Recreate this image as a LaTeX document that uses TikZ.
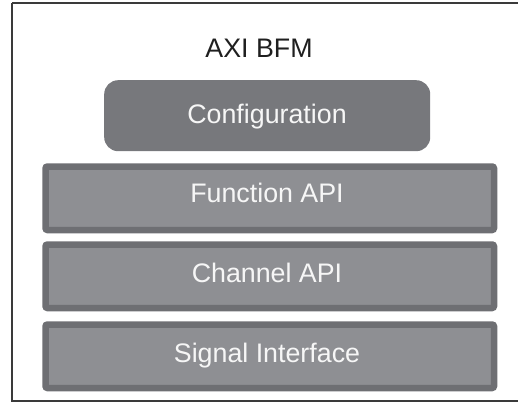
\documentclass[tikz,border=0pt]{standalone}
\usepackage{fontspec}
\setmainfont{Liberation Sans}
\definecolor{frameC}{HTML}{3A3A3A}
\definecolor{borderC}{HTML}{6E6F73}
\definecolor{innerC}{HTML}{8E8F93}
\definecolor{cfgC}{HTML}{77787C}
\definecolor{txtW}{HTML}{F6F6F6}
\begin{document}
\begin{tikzpicture}[x=1pt,y=-1pt,
  layerbox/.style={fill=innerC, draw=borderC, line width=6.5pt, rounded corners=2pt,
    minimum width=448.5pt, minimum height=63.5pt, inner sep=0pt, anchor=north west},
  cfgbox/.style={fill=cfgC, draw=none, rounded corners=14pt,
    minimum width=326pt, minimum height=71pt, inner sep=0pt, anchor=north west},
  lbl/.style={text=txtW, font=\fontsize{26.8}{31}\selectfont, anchor=base, inner sep=0pt},
  title/.style={text=black!88, font=\fontsize{26.8}{31}\selectfont, anchor=base, inner sep=0pt}]
\useasboundingbox (0,0) rectangle (518,404);
\clip (0,0) rectangle (518,404);
\draw[frameC, line width=1.6pt] (12,3) -- (530,3) (12,3) -- (12,401) -- (530,401);
\node[title] (t) at (259,57) {AXI BFM};
\node[cfgbox] (cfg) at (104,80) {};
\node[lbl] (cfgt) at (267,123) {Configuration};
\node[layerbox] (fn) at (42.25,163.25) {};
\node[lbl] (fnt) at (267,202) {Function API};
\node[layerbox] (ch) at (42.25,241.25) {};
\node[lbl] (cht) at (267,282) {Channel API};
\node[layerbox] (sg) at (42.25,321.25) {};
\node[lbl] (sgt) at (267,362) {Signal Interface};
\end{tikzpicture}
\end{document}
